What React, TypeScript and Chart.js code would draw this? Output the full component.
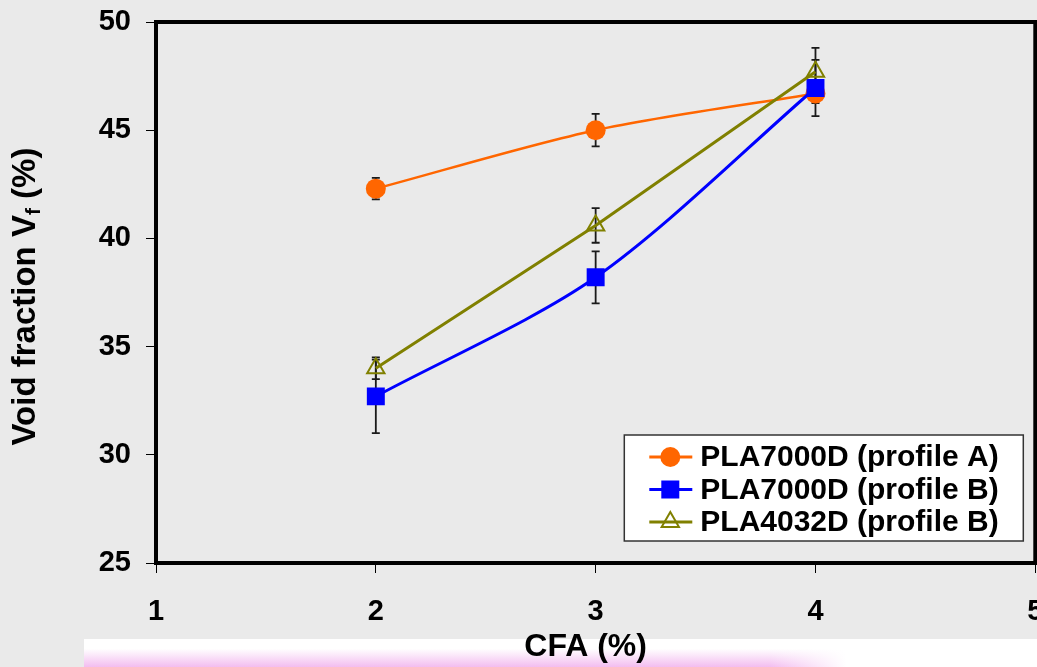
import React, { useEffect, useRef } from 'react';
import { Chart, registerables } from 'chart.js';
Chart.register(...registerables);

const cfa = [2, 3, 4];
const seriesLabels = ['PLA7000D (profile A)', 'PLA7000D (profile B)', 'PLA4032D (profile B)'];
const vfA = [42.3, 45.0, 46.7];
const errA = [0.5, 0.75, 0.45];
const vfB = [32.7, 38.2, 46.95];
const errB = [1.7, 1.2, 1.3];
const vfC = [34.0, 40.6, 47.7];
const errC = [0.5, 0.8, 1.1];
const xTitle = 'CFA (%)';
const yTitleMain = 'Void fraction V';
const yTitleSub = 'f';
const yTitleEnd = ' (%)';

const FONT = '"Liberation Sans", Arial, sans-serif';
const colors = ['#ff6600', '#0000ff', '#808000'];
const errs = [errA, errB, errC];

function drawMarker(ctx: CanvasRenderingContext2D, i: number, x: number, y: number) {
  ctx.save();
  if (i === 0) {
    ctx.fillStyle = colors[0];
    ctx.beginPath();
    ctx.arc(x, y, 10, 0, Math.PI * 2);
    ctx.fill();
  } else if (i === 1) {
    ctx.fillStyle = colors[1];
    ctx.fillRect(x - 9, y - 9, 18, 18);
  } else {
    const r = 10;
    ctx.strokeStyle = colors[2];
    ctx.lineWidth = 2;
    ctx.beginPath();
    for (let k = 0; k < 3; k++) {
      const a = (k * 2 * Math.PI) / 3;
      const px = x + Math.sin(a) * r;
      const py = y - Math.cos(a) * r;
      if (k === 0) ctx.moveTo(px, py);
      else ctx.lineTo(px, py);
    }
    ctx.closePath();
    ctx.stroke();
  }
  ctx.restore();
}

const errorBarPlugin = {
  id: 'errorBars',
  beforeDatasetsDraw(chart: any) {
    const ctx = chart.ctx;
    const xs = chart.scales.x;
    const ys = chart.scales.y;
    ctx.save();
    ctx.strokeStyle = '#1a1a1a';
    ctx.lineWidth = 1.8;
    chart.data.datasets.forEach((ds: any, di: number) => {
      ds.data.forEach((p: any, j: number) => {
        const e = errs[di][j];
        const x = xs.getPixelForValue(p.x);
        const y1 = ys.getPixelForValue(p.y + e);
        const y2 = ys.getPixelForValue(p.y - e);
        ctx.beginPath();
        ctx.moveTo(x, y1);
        ctx.lineTo(x, y2);
        ctx.moveTo(x - 4, y1);
        ctx.lineTo(x + 4, y1);
        ctx.moveTo(x - 4, y2);
        ctx.lineTo(x + 4, y2);
        ctx.stroke();
      });
    });
    ctx.restore();
  },
};

const decorPlugin = {
  id: 'decor',
  afterDraw(chart: any) {
    const ctx = chart.ctx;
    const { left, right, top, bottom } = chart.chartArea;
    ctx.save();
    // frame
    ctx.strokeStyle = '#000';
    ctx.lineWidth = 4;
    ctx.strokeRect(left, top, right - left, bottom - top);

    // legend
    const bx = right - 411, by = bottom - 128, bw = 399, bh = 106;
    ctx.fillStyle = '#fff';
    ctx.fillRect(bx, by, bw, bh);
    ctx.strokeStyle = '#333';
    ctx.lineWidth = 1.5;
    ctx.strokeRect(bx, by, bw, bh);
    ctx.font = `bold 30px ${FONT}`;
    ctx.textBaseline = 'middle';
    ctx.textAlign = 'left';
    seriesLabels.forEach((lab, i) => {
      const cy = by + 22 + i * 32.5;
      ctx.strokeStyle = colors[i];
      ctx.lineWidth = 3;
      ctx.beginPath();
      ctx.moveTo(bx + 25, cy);
      ctx.lineTo(bx + 68, cy);
      ctx.stroke();
      drawMarker(ctx, i, bx + 46, cy);
      ctx.fillStyle = '#000';
      ctx.fillText(lab, bx + 76, cy + 1);
    });

    // x title
    ctx.font = `bold 32px ${FONT}`;
    ctx.textAlign = 'center';
    ctx.textBaseline = 'middle';
    ctx.fillStyle = '#000';
    ctx.fillText(xTitle, (left + right) / 2 - 10, bottom + 84);

    // y title with subscript
    ctx.textAlign = 'left';
    ctx.translate(25, (top + bottom) / 2 + 4);
    ctx.rotate(-Math.PI / 2);
    ctx.textBaseline = 'alphabetic';
    const fMain = `bold 33px ${FONT}`;
    const fSub = `bold 21px ${FONT}`;
    ctx.font = fMain;
    const w1 = ctx.measureText(yTitleMain).width;
    const w3 = ctx.measureText(yTitleEnd).width;
    ctx.font = fSub;
    const w2 = ctx.measureText(yTitleSub).width;
    const total = w1 + w2 + w3;
    let x0 = -total / 2;
    const base = 10;
    ctx.font = fMain;
    ctx.fillText(yTitleMain, x0, base);
    x0 += w1;
    ctx.font = fSub;
    ctx.fillText(yTitleSub, x0, base + 5);
    x0 += w2;
    ctx.font = fMain;
    ctx.fillText(yTitleEnd, x0, base);
    ctx.restore();
  },
};

export default function App() {
  const ref = useRef<HTMLCanvasElement | null>(null);
  useEffect(() => {
    if (!ref.current) return;
    const mk = (vals: number[]) => cfa.map((x, i) => ({ x, y: vals[i] }));
    const chart = new Chart(ref.current, {
      type: 'line',
      data: {
        datasets: [
          {
            label: seriesLabels[0], data: mk(vfA), borderColor: colors[0], backgroundColor: colors[0],
            borderWidth: 2.5, pointStyle: 'circle', pointRadius: 10, pointBorderWidth: 0,
            tension: 0.3, order: 3,
          },
          {
            label: seriesLabels[1], data: mk(vfB), borderColor: colors[1], backgroundColor: colors[1],
            borderWidth: 3, pointStyle: 'rect', pointRadius: 12.7, pointBorderWidth: 0,
            tension: 0.3, order: 2,
          },
          {
            label: seriesLabels[2], data: mk(vfC), borderColor: colors[2], backgroundColor: 'rgba(0,0,0,0)',
            borderWidth: 3, pointStyle: 'triangle', pointRadius: 10, pointBorderWidth: 2,
            pointBorderColor: colors[2], tension: 0, order: 1,
          },
        ],
      } as any,
      options: {
        responsive: false,
        animation: false,
        devicePixelRatio: 1,
        layout: { padding: { top: 22, right: 2, left: 0, bottom: 0 } },
        plugins: { legend: { display: false }, tooltip: { enabled: false } },
        scales: {
          x: {
            type: 'linear', min: 1, max: 5,
            ticks: { stepSize: 1, color: '#000', font: { family: FONT, size: 29, weight: 'bold' }, padding: 22 },
            grid: { drawOnChartArea: false, drawTicks: true, tickLength: 10, color: '#000', lineWidth: 1 },
            border: { display: false },
            title: { display: false },
            afterFit: (s: any) => { s.height = 104; s.paddingLeft = 0; s.paddingRight = 0; },
          },
          y: {
            type: 'linear', min: 25, max: 50,
            ticks: { stepSize: 5, color: '#000', font: { family: FONT, size: 29, weight: 'bold' }, padding: 15 },
            grid: { drawOnChartArea: false, drawTicks: true, tickLength: 10, color: '#000', lineWidth: 1 },
            border: { display: false },
            afterFit: (s: any) => { s.width = 156; s.paddingTop = 0; s.paddingBottom = 0; },
          },
        },
      } as any,
      plugins: [errorBarPlugin, decorPlugin],
    });
    return () => chart.destroy();
  }, []);
  return (
    <div style={{ position: 'absolute', left: 0, top: 0, width: 1037, height: 667, background: '#eaeaea', overflow: 'hidden' }}>
      <div style={{
        position: 'absolute', left: 84, top: 639, width: 953, height: 28,
        background: 'linear-gradient(to right, rgba(255,255,255,0) 0%, rgba(255,255,255,0) 72%, #ffffff 80%), linear-gradient(to bottom, #ffffff 0%, #ffffff 35%, #f3bdf0 100%)',
      }} />
      <canvas ref={ref} width={1048} height={667} style={{ position: 'absolute', left: 0, top: 0, width: 1048, height: 667, display: 'block' }} />
    </div>
  );
}
